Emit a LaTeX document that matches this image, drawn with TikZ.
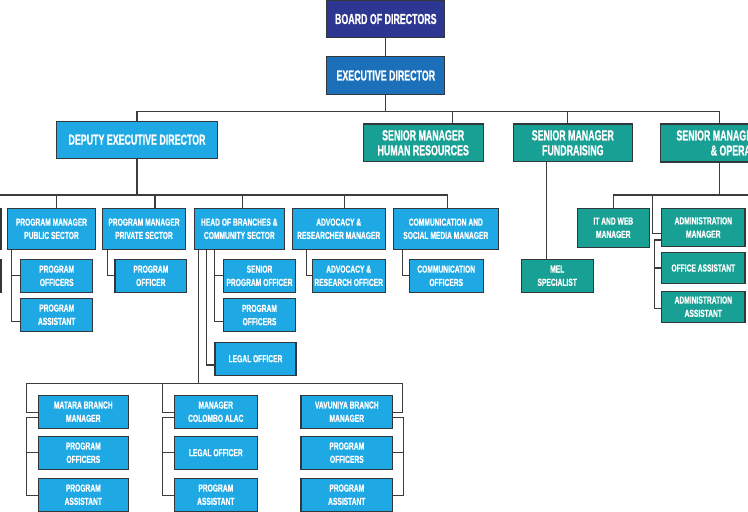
\documentclass[tikz,border=0pt]{standalone}
\usepackage{fontspec}
\usepackage{tikz}
\usetikzlibrary{positioning,calc}
\newfontfamily\orgfont{Liberation Sans}[FakeStretch=0.61, FakeBold=0.8]
\newfontfamily\orgfontsm{Liberation Sans}[FakeStretch=0.655, FakeBold=0.6]
\newcommand{\bigtxt}{\orgfont\bfseries\fontsize{14.5}{15}\selectfont}
\newcommand{\smalltxt}{\orgfontsm\bfseries\fontsize{10.2}{13.3}\selectfont}
\definecolor{boardnavy}{RGB}{45,55,145}
\definecolor{execblue}{RGB}{28,112,186}
\definecolor{skyblue}{RGB}{30,168,228}
\definecolor{seateal}{RGB}{25,160,148}
\definecolor{boxgray}{RGB}{50,55,60}
\definecolor{wiregray}{RGB}{60,60,60}
\tikzset{
  orgbox/.style={draw=boxgray, line width=1.1pt, inner sep=0pt, text=white, align=center, font=\smalltxt},
  topbox/.style={orgbox, font=\bigtxt},
  wire/.style={draw=wiregray, line width=1.2pt}
}

\begin{document}
\begin{tikzpicture}[x=1pt,y=-1pt]
\useasboundingbox (0,0) rectangle (748,512);
\clip (0,0) rectangle (748,512);
\coordinate (topbus) at (0,111.7);
\coordinate (opsdrop) at (719.7,111.7);
\coordinate (hrdrop) at (452.3,111.7);
\coordinate (funddrop) at (567.3,111.7);
\coordinate (midbus) at (-20,195);
\coordinate (rightbus) at (770,195);
\coordinate (lowbus) at (402.7,383.3);

\node[topbox, fill=boardnavy, minimum width=118pt, minimum height=37pt] (board) at (385.8,19) {BOARD OF DIRECTORS};
\node[topbox, fill=execblue, minimum width=118pt, minimum height=37.6pt] (exec) at (385.8,75.5) {EXECUTIVE DIRECTOR};
\node[topbox, fill=skyblue, minimum width=160.6pt, minimum height=37.3pt] (deputy) at (137,139.7) {DEPUTY EXECUTIVE DIRECTOR};
\node[topbox, fill=seateal, minimum width=120pt, minimum height=37.7pt] (hr) at (423.2,142.8) {SENIOR MANAGER\\HUMAN RESOURCES};
\node[topbox, fill=seateal, minimum width=119pt, minimum height=37.7pt] (fund) at (572.8,142.8) {SENIOR MANAGER\\FUNDRAISING};
\node[topbox, fill=seateal, minimum width=167pt, minimum height=38pt] (ops) at (744,143) {SENIOR MANAGER\hspace*{53pt}\\\& OPERATIONS};

\node[orgbox, fill=skyblue, minimum width=81pt, minimum height=41pt] (farA) at (-39.5,228.8) {};
\node[orgbox, fill=skyblue, minimum width=71pt, minimum height=33pt] (farB) at (-34.5,275.8) {};
\node[orgbox, fill=skyblue, minimum width=88.4pt, minimum height=41pt] (pmpub) at (51.5,228.8) {PROGRAM MANAGER\\PUBLIC SECTOR};
\node[orgbox, fill=skyblue, minimum width=83.4pt, minimum height=41pt] (pmpriv) at (144,228.8) {PROGRAM MANAGER\\PRIVATE SECTOR};
\node[orgbox, fill=skyblue, minimum width=90pt, minimum height=41pt] (hob) at (239.3,228.8) {HEAD OF BRANCHES \&\\COMMUNITY SECTOR};
\node[orgbox, fill=skyblue, minimum width=92.7pt, minimum height=41pt] (advmgr) at (338.7,228.8) {ADVOCACY \&\\RESEARCHER MANAGER};
\node[orgbox, fill=skyblue, minimum width=105pt, minimum height=41pt] (commgr) at (445.8,228.8) {COMMUNICATION AND\\SOCIAL MEDIA MANAGER};

\node[orgbox, fill=skyblue, minimum width=72pt, minimum height=33pt] (pubpo) at (56.7,275.8) {PROGRAM\\OFFICERS};
\node[orgbox, fill=skyblue, minimum width=72pt, minimum height=32.7pt] (pubpa) at (56.7,314.7) {PROGRAM\\ASSISTANT};
\node[orgbox, fill=skyblue, minimum width=71.7pt, minimum height=33pt] (privpo) at (150.8,275.8) {PROGRAM\\OFFICER};
\node[orgbox, fill=skyblue, minimum width=72.4pt, minimum height=33pt] (spo) at (259.5,275.8) {SENIOR\\PROGRAM OFFICER};
\node[orgbox, fill=skyblue, minimum width=72.4pt, minimum height=33.4pt] (hobpo) at (259.5,315) {PROGRAM\\OFFICERS};
\node[orgbox, fill=skyblue, minimum width=81pt, minimum height=32.7pt] (legal) at (255.5,358.7) {LEGAL OFFICER};
\node[orgbox, fill=skyblue, minimum width=72.7pt, minimum height=33pt] (advoff) at (348.7,275.8) {ADVOCACY \&\\RESEARCH OFFICER};
\node[orgbox, fill=skyblue, minimum width=74.3pt, minimum height=33pt] (commoff) at (446.2,275.8) {COMMUNICATION\\OFFICERS};

\node[orgbox, fill=seateal, minimum width=72.3pt, minimum height=33.3pt] (mel) at (557.2,275.7) {MEL\\SPECIALIST};
\node[orgbox, fill=seateal, minimum width=72pt, minimum height=39pt] (itweb) at (613.3,227.8) {IT AND WEB\\MANAGER};
\node[orgbox, fill=seateal, minimum width=83.3pt, minimum height=38.4pt] (admmgr) at (703.3,227.5) {ADMINISTRATION\\MANAGER};
\node[orgbox, fill=seateal, minimum width=83.3pt, minimum height=30.6pt] (office) at (703.3,268) {OFFICE ASSISTANT};
\node[orgbox, fill=seateal, minimum width=83.3pt, minimum height=31.3pt] (admasst) at (703.3,306.7) {ADMINISTRATION\\ASSISTANT};

\node[orgbox, fill=skyblue, minimum width=90pt, minimum height=33.3pt] (matara) at (83.3,411.7) {MATARA BRANCH\\MANAGER};
\node[orgbox, fill=skyblue, minimum width=90pt, minimum height=33.3pt] (matpo) at (83.3,452.7) {PROGRAM\\OFFICERS};
\node[orgbox, fill=skyblue, minimum width=90pt, minimum height=32.7pt] (matpa) at (83.3,494.7) {PROGRAM\\ASSISTANT};
\node[orgbox, fill=skyblue, minimum width=83pt, minimum height=33.3pt] (colombo) at (215.8,411.7) {MANAGER\\COLOMBO ALAC};
\node[orgbox, fill=skyblue, minimum width=83pt, minimum height=33.3pt] (colegal) at (215.8,452.7) {LEGAL OFFICER};
\node[orgbox, fill=skyblue, minimum width=83pt, minimum height=32.7pt] (colpa) at (215.8,494.7) {PROGRAM\\ASSISTANT};
\node[orgbox, fill=skyblue, minimum width=91.7pt, minimum height=33.3pt] (vav) at (346.8,411.7) {VAVUNIYA BRANCH\\MANAGER};
\node[orgbox, fill=skyblue, minimum width=91.7pt, minimum height=33.3pt] (vavpo) at (346.8,452.7) {PROGRAM\\OFFICERS};
\node[orgbox, fill=skyblue, minimum width=91.7pt, minimum height=32.7pt] (vavpa) at (346.8,494.7) {PROGRAM\\ASSISTANT};

\draw[wire] (board) -- (exec);
\draw[wire] (exec) -- (exec |- topbus);
\draw[wire] (deputy.north) |- (opsdrop) -- (opsdrop |- ops.north);
\draw[wire] (hrdrop) -- (hrdrop |- hr.north);
\draw[wire] (funddrop) -- (funddrop |- fund.north);

\draw[wire] (deputy) -- (deputy |- midbus);
\draw[wire] (midbus) -- ([xshift=1.5pt]commgr.north |- midbus) -- ([xshift=1.5pt]commgr.north);
\draw[wire] ([xshift=5.2pt]pmpub.north) -- ([xshift=5.2pt]pmpub.north |- midbus);
\draw[wire] ([xshift=11pt]pmpriv.north) -- ([xshift=11pt]pmpriv.north |- midbus);
\draw[wire] ([xshift=3pt]hob.north) -- ([xshift=3pt]hob.north |- midbus);
\draw[wire] ([xshift=5.6pt]advmgr.north) -- ([xshift=5.6pt]advmgr.north |- midbus);

\draw[wire] ([xshift=5pt]pmpub.south west) |- ([yshift=-7pt]pubpa.west);
\draw[wire] (pubpo.west) -- ++(-8.4,0);
\draw[wire] ([xshift=6pt]pmpriv.south west) |- (privpo.west);
\draw[wire] ([xshift=20.7pt]hob.south west) |- ([yshift=-6.7pt]hobpo.west);
\draw[wire] (spo.west) -- ++(-8.3,0);
\draw[wire] ([xshift=12.4pt]hob.south west) |- ([yshift=-6.3pt]legal.west);
\draw[wire] ([xshift=14.4pt]advmgr.south west) |- (advoff.west);
\draw[wire] ([xshift=10pt]commgr.south west) |- (commoff.west);

\draw[wire] (opsdrop |- ops.south) -- (opsdrop |- rightbus);
\draw[wire] (itweb.north) |- (rightbus);
\draw[wire] ([yshift=-5.8pt]admmgr.west) -- ++(-8.4,0) -- ++(0,-38.3);
\draw[wire] ([yshift=-12.5pt]admmgr.west) -- ++(-6.7,0) |- ([yshift=-1.6pt]admasst.west);
\draw[wire] (office.west) -- ++(-6.7,0);
\draw[wire] ([xshift=-10.5pt]mel.north) -- ([xshift=-10.5pt]mel.north |- fund.south);

\draw[wire] ([xshift=4.5pt]hob.south west) -- ([xshift=4.5pt]hob.south west |- lowbus);
\draw[wire] ([yshift=-0.6pt]matara.west) -- ++(-11,0) |- (lowbus) |- ([yshift=-0.6pt]vav.east);
\draw[wire] ([yshift=-0.6pt]colombo.west) -- ++(-11,0) -- ++(0,-29);
\draw[wire] ([yshift=-6pt]matara.west) -- ++(-11,0) |- ([yshift=-1pt]matpa.west);
\draw[wire] (matpo.west) -- ++(-11,0);
\draw[wire] ([yshift=-6pt]colombo.west) -- ++(-11,0) |- ([yshift=-1pt]colpa.west);
\draw[wire] (colegal.west) -- ++(-11,0);
\draw[wire] ([yshift=-6pt]vav.east) -- ++(10,0) |- ([yshift=-1pt]vavpa.east);
\draw[wire] (vavpo.east) -- ++(10,0);
\end{tikzpicture}
\end{document}
